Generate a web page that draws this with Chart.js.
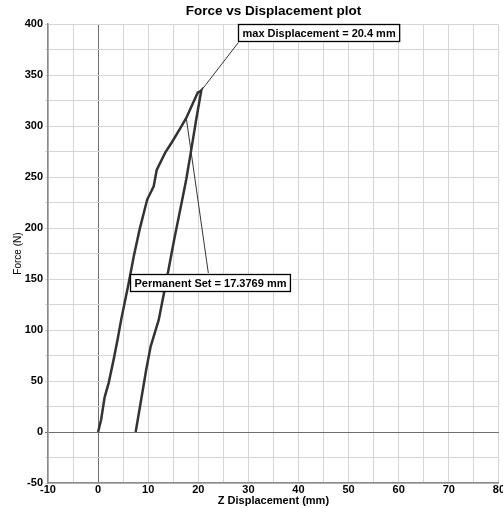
<!DOCTYPE html>
<html>
<head>
<meta charset="utf-8">
<script src="https://cdn.jsdelivr.net/npm/chart.js@4"></script>
<style>
  html, body { margin: 0; padding: 0; overflow: hidden; background: #fff; }
  #wrap { width: 505px; height: 508px; }
</style>
</head>
<body>
<div id="wrap"><canvas id="mycanvas"></canvas></div>
<script>
// loading curve
var loadX = [0, 0.6, 1.3, 2.1, 3.1, 3.9, 4.6, 6.1, 7.1, 8.3, 9.8, 11.1, 11.7, 13.4, 14.7, 16.3, 17.6, 18.7, 19.9, 20.4];
var loadY = [0, 12, 34, 48, 71, 91, 110, 146, 172, 199, 228, 241, 257, 274, 284, 297, 308, 320, 333, 334];
// unloading curve
var unloadX = [20.4, 20.6, 19.6, 18.5, 17.6, 16.8, 15.2, 13.7, 12.1, 10.5, 9.6, 8.5, 7.5];
var unloadY = [334, 335, 307, 274, 248, 228, 189, 150, 110, 84, 61, 29, 0];

// callouts: point -> box anchor
var noteText = ["max Displacement = 20.4 mm", "Permanent Set = 17.3769 mm"];
var notePointX = [20.6, 17.6];
var notePointY = [335, 308];
var noteEndX = [28, 22];
var noteEndY = [382, 156];
var noteBoxX = [28, 6.4];    // box left
var noteBoxY = [400, 154.6]; // box top

function pts(xs, ys) {
  var out = [];
  for (var i in xs) out.push({x: xs[i], y: ys[i]});
  return out;
}

var font = "'Liberation Sans', Arial, sans-serif";

var notesPlugin = {
  id: 'notes',
  afterDatasetsDraw: function(chart) {
    var ctx = chart.ctx, xs = chart.scales.x, ys = chart.scales.y;
    ctx.save();
    ctx.font = "bold 11px " + font;
    for (var i = 0; i < noteText.length; i++) {
      var w = ctx.measureText(noteText[i]).width + 8;
      var h = 17;
      var left = Math.round(xs.getPixelForValue(noteBoxX[i])) + 0.5;
      var top = Math.round(ys.getPixelForValue(noteBoxY[i])) + 0.5;
      ctx.fillStyle = "#fff";
      ctx.fillRect(left, top, w, h);
      ctx.strokeStyle = "#000";
      ctx.lineWidth = 1.3;
      ctx.strokeRect(left, top, w, h);
      ctx.fillStyle = "#000";
      ctx.textBaseline = "middle";
      ctx.fillText(noteText[i], left + 4, top + h / 2 + 0.5);
    }
    ctx.restore();
  }
};

var callouts = [];
for (var i = 0; i < noteText.length; i++) {
  callouts.push({
    data: [{x: notePointX[i], y: notePointY[i]}, {x: noteEndX[i], y: noteEndY[i]}],
    showLine: true, borderColor: "#333", borderWidth: 1, pointRadius: 0, fill: false
  });
}

var chartdata = {
  datasets: [
    {
      label: "loading",
      data: pts(loadX, loadY),
      showLine: true, borderColor: "#333", borderWidth: 2.5, pointRadius: 0, fill: false
    },
    {
      label: "unloading",
      data: pts(unloadX, unloadY),
      showLine: true, borderColor: "#333", borderWidth: 2.5, pointRadius: 0, fill: false
    }
  ].concat(callouts)
};

var gridColor = function(c) {
  return c.tick && c.tick.value === 0 ? "#6e6e6e" : "#d6d6d6";
};

var LineGraph = new Chart(document.getElementById("mycanvas"), {
  type: 'scatter',
  data: chartdata,
  plugins: [notesPlugin],
  options: {
    responsive: true,
    maintainAspectRatio: false,
    animation: false,
    layout: { padding: 0 },
    plugins: {
      legend: { display: false },
      tooltip: { enabled: false },
      title: {
        display: true,
        fullSize: false,
        text: "Force vs Displacement plot",
        color: "#000",
        font: { family: font, size: 13.5, weight: "bold" },
        padding: { top: 3, bottom: 5 }
      }
    },
    scales: {
      x: {
        type: 'linear', min: -10, max: 80,
        afterFit: function(s) { s.height = 25; },
        ticks: {
          stepSize: 5, autoSkip: false, maxRotation: 0, padding: 0,
          color: "#000", font: { family: font, size: 11, weight: "bold" },
          callback: function(v) { return v % 10 === 0 ? v : ""; }
        },
        grid: { color: gridColor, lineWidth: 1, tickLength: 0 },
        border: { color: "#8a8a8a", width: 1.5 },
        title: {
          display: true, text: "Z Displacement (mm)", color: "#000",
          font: { family: font, size: 11, weight: "bold" }, padding: 0
        }
      },
      y: {
        type: 'linear', min: -50, max: 400,
        afterFit: function(s) { s.width = 48; },
        ticks: {
          stepSize: 25, autoSkip: false, padding: 2,
          color: "#000", font: { family: font, size: 11, weight: "bold" },
          callback: function(v) { return v % 50 === 0 ? v : ""; }
        },
        grid: { color: gridColor, lineWidth: 1, tickLength: 3 },
        border: { color: "#8a8a8a", width: 1.5 },
        title: {
          display: true, text: "Force (N)", color: "#000",
          font: { family: font, size: 10 }, padding: { top: 12, bottom: 0 }
        }
      }
    }
  }
});
</script>
</body>
</html>
